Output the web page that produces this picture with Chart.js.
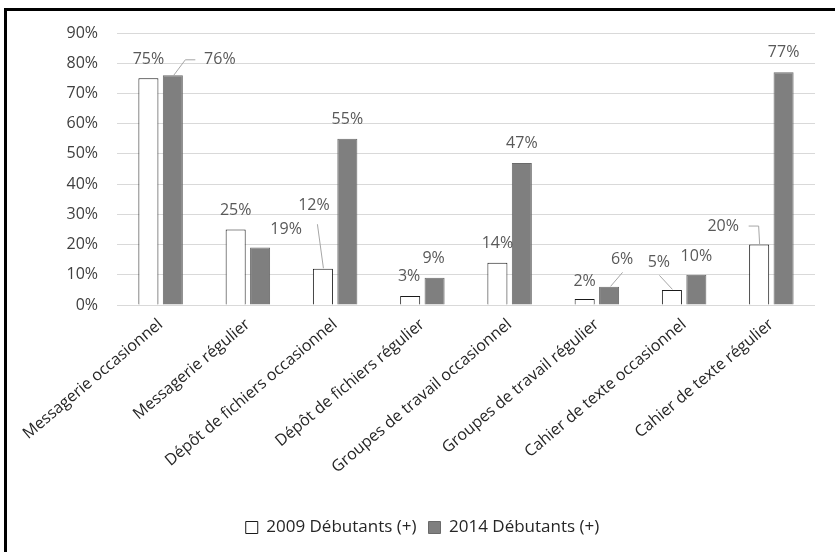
<!DOCTYPE html>
<html>
<head>
<meta charset="utf-8">
<script src="https://cdn.jsdelivr.net/npm/chart.js@4.4.1/dist/chart.umd.min.js"></script>
<style>
  html, body { margin: 0; padding: 0; background: #fff; }
  #wrap { position: relative; width: 835px; height: 552px; overflow: hidden; }
  #frame { position: absolute; left: 4px; top: 8px; right: -10px; bottom: -10px;
           border-left: 3px solid #000; border-top: 3px solid #000; pointer-events: none; }
  canvas { position: absolute; left: 0; top: 0; }
</style>
</head>
<body>
<div id="wrap">
  <canvas id="chart" width="835" height="552"></canvas>
  <div id="frame"></div>
</div>
<script>
// data
const categories = [
  "Messagerie occasionnel",
  "Messagerie régulier",
  "Dépôt de fichiers occasionnel",
  "Dépôt de fichiers régulier",
  "Groupes de travail occasionnel",
  "Groupes de travail régulier",
  "Cahier de texte occasionnel",
  "Cahier de texte régulier"
];
const debutants2009 = [75, 25, 12, 3, 14, 2, 5, 20];
const debutants2014 = [76, 19, 55, 9, 47, 6, 10, 77];
const seriesNames = ["2009 Débutants (+)", "2014 Débutants (+)"];

// where the value labels sit, relative to the top of their bar (px)
const labelOffsets = [
  [[0, -19], [0, -19], [-9, -63], [-1, -19], [0, -19], [0, -18], [-13, -27], [-36, -18]],
  [[47, -16], [26, -18], [0, -19], [-1, -19], [0, -20], [13, -27], [0, -18], [0, -20]]
];
// leader lines: list of points relative to the bar top
const leaders = [
  { 2: [[0, -1], [-6, -45]], 6: [[0, -1], [-13, -15]], 7: [[0, 0], [-1, -19], [-11, -19]] },
  { 0: [[0, 0], [12, -16], [22, -16]], 5: [[1, -1], [13, -15]] }
];

const valueLabels = {
  id: "valueLabels",
  afterDatasetsDraw(chart) {
    const ctx = chart.ctx;
    ctx.save();
    chart.data.datasets.forEach((ds, di) => {
      const meta = chart.getDatasetMeta(di);
      meta.data.forEach((bar, i) => {
        const lead = leaders[di][i];
        if (lead) {
          ctx.strokeStyle = "#a6a6a6";
          ctx.lineWidth = 1;
          ctx.beginPath();
          lead.forEach((p, k) => {
            const px = bar.x + p[0] + 0.5, py = bar.y + p[1] + 0.5;
            if (k === 0) ctx.moveTo(px, py); else ctx.lineTo(px, py);
          });
          ctx.stroke();
        }
        const off = labelOffsets[di][i];
        ctx.fillStyle = "#595959";
        ctx.font = "16px 'Open Sans'";
        ctx.textAlign = "center";
        ctx.textBaseline = "middle";
        ctx.fillText(ds.data[i] + "%", bar.x + off[0], bar.y + off[1]);
      });
    });
    ctx.restore();
  }
};

new Chart(document.getElementById("chart"), {
  type: "bar",
  data: {
    labels: categories,
    datasets: [
      {
        label: seriesNames[0],
        data: debutants2009,
        backgroundColor: "#ffffff",
        borderColor: "#1a1a1a",
        borderWidth: 1,
        categoryPercentage: 0.56,
        barPercentage: 0.82
      },
      {
        label: seriesNames[1],
        data: debutants2014,
        backgroundColor: "#7f7f7f",
        borderColor: "#6a6a6a",
        borderWidth: 1,
        categoryPercentage: 0.56,
        barPercentage: 0.82
      }
    ]
  },
  options: {
    responsive: false,
    animation: false,
    layout: { padding: { left: 30, right: 20, top: 33, bottom: 6 } },
    plugins: {
      legend: {
        position: "bottom",
        labels: {
          boxWidth: 12,
          boxHeight: 12,
          padding: 12,
          color: "#262626",
          font: { family: "'Open Sans'", size: 17 }
        }
      },
      tooltip: { enabled: false }
    },
    scales: {
      x: {
        grid: { display: false },
        border: { display: false },
        ticks: {
          minRotation: 40,
          maxRotation: 40,
          padding: 2,
          color: "#262626",
          font: { family: "'Open Sans'", size: 16 }
        },
        afterFit(s) { s.height = 202; }
      },
      y: {
        min: 0,
        max: 90,
        grid: { color: "#d9d9d9", drawTicks: false },
        border: { display: false },
        ticks: {
          stepSize: 10,
          padding: 19,
          color: "#404040",
          font: { family: "'Open Sans'", size: 16 },
          callback: v => v + "%"
        },
        afterFit(s) { s.width = 87; }
      }
    }
  },
  plugins: [valueLabels]
});
</script>
</body>
</html>
